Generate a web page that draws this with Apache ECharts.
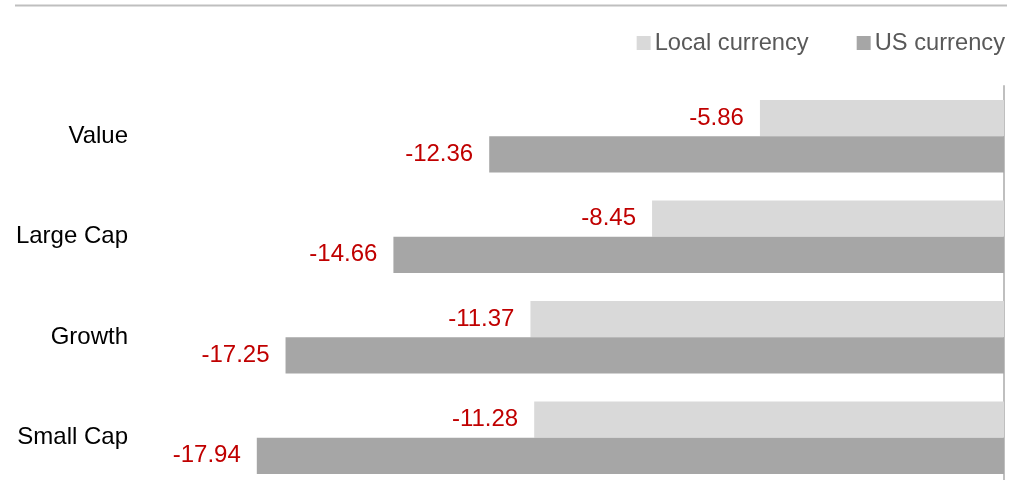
<!DOCTYPE html>
<html><head><meta charset="utf-8">
<script src="https://cdn.jsdelivr.net/npm/echarts@6/dist/echarts.min.js"></script>
<style>html,body{margin:0;padding:0;background:#fff}#c{width:1023px;height:480px}</style>
</head><body><div id="c"></div>
<script>
const categories = ["Value", "Large Cap", "Growth", "Small Cap"];
const localCurrency = [-5.86, -8.45, -11.37, -11.28];
const usCurrency = [-12.36, -14.66, -17.25, -17.94];
const seriesNames = ["Local currency", "US currency"];

const chart = echarts.init(document.getElementById('c'), null, {renderer: 'canvas'});
const font = 'Liberation Sans, Arial, sans-serif';
const lbl = {show: true, position: 'left', distance: 16, color: '#c00000', fontSize: 24, fontFamily: font, formatter: p => p.value.toFixed(2)};
chart.setOption({
  animation: false,
  graphic: [{type: 'line', shape: {x1: 15, y1: 5.5, x2: 1007, y2: 5.5}, style: {stroke: '#bfbfbf', lineWidth: 2}}],
  legend: {right: 13, top: 26, itemWidth: 14, itemHeight: 14, itemGap: 48, icon: 'rect',
    textStyle: {fontSize: 23.7, color: '#595959', fontFamily: font, padding: [0, 0, 0, -1]}, data: seriesNames},
  grid: {left: 171, top: 86, width: 833, height: 402, containLabel: false, outerBoundsMode: 'none'},
  xAxis: {type: 'value', min: -20, max: 0, show: false},
  yAxis: [
    {type: 'category', data: categories, inverse: true, position: 'left',
     axisLine: {show: false}, axisTick: {show: false},
     axisLabel: {fontSize: 24, color: '#000', fontFamily: font, margin: 43}},
    {type: 'category', data: categories, inverse: true, position: 'right',
     axisLine: {show: true, lineStyle: {color: '#bfbfbf', width: 2}}, axisTick: {show: false}, axisLabel: {show: false}}
  ],
  series: [
    {name: seriesNames[0], type: 'bar', data: localCurrency, itemStyle: {color: '#d9d9d9'}, barCategoryGap: '28%', barGap: '0%', label: lbl},
    {name: seriesNames[1], type: 'bar', data: usCurrency, itemStyle: {color: '#a6a6a6'}, barCategoryGap: '28%', barGap: '0%', label: lbl}
  ]
});
</script></body></html>
